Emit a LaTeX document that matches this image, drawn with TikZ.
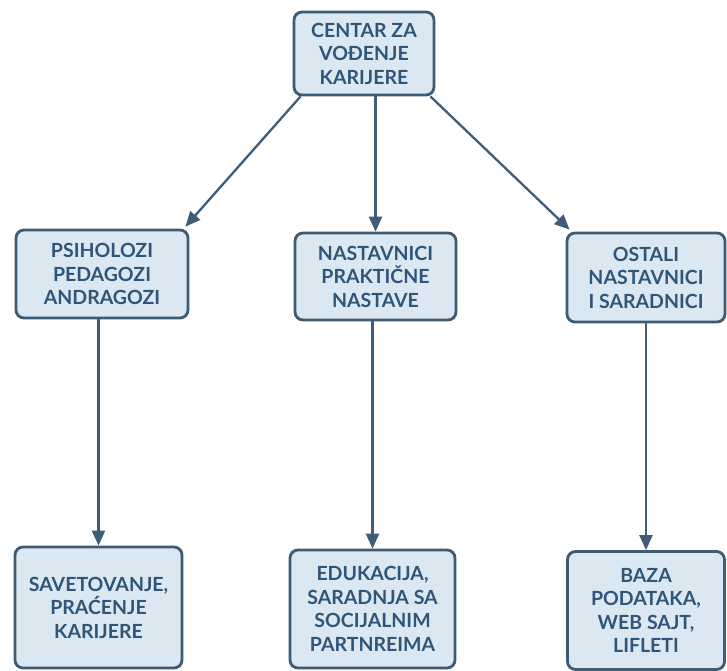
\documentclass[tikz,border=0pt]{standalone}
\usepackage{fontspec}
\setmainfont{Lato}
\usetikzlibrary{arrows.meta}
\definecolor{boxfill}{HTML}{DCE8F1}
\definecolor{boxline}{HTML}{3E5B74}
\definecolor{boxtext}{HTML}{2F5579}
\definecolor{arrowline}{HTML}{3F5D78}
\begin{document}
\begin{tikzpicture}[x=1pt,y=-1pt,
  card/.style={draw=boxline, fill=boxfill, line width=2.8pt, rounded corners=8pt,
    text=boxtext, font=\fontsize{19.5}{23.5}\selectfont\bfseries, align=center,
    inner sep=0pt},
  link/.style={draw=arrowline, line width=2.3pt,
    -{Triangle[length=15pt,width=13pt]}}]
\useasboundingbox (0,0) rectangle (727,670);

% top level
\node[card, minimum width=140pt, minimum height=83pt] (top) at (364,53.5)
  {CENTAR ZA\\VOĐENJE\\KARIJERE};

% middle row
\node[card, minimum width=172pt, minimum height=88pt] (L1) at (102,274)
  {PSIHOLOZI\\PEDAGOZI\\ANDRAGOZI};
\node[card, minimum width=161pt, minimum height=87pt] (M1) at (375.5,276.5)
  {NASTAVNICI\\PRAKTIČNE\\NASTAVE};
\node[card, minimum width=158pt, minimum height=89pt] (R1) at (646,277.5)
  {OSTALI\\NASTAVNICI\\I SARADNICI};

% bottom row
\node[card, minimum width=167pt, minimum height=121pt] (L2) at (98.5,607.5)
  {SAVETOVANJE,\\PRAĆENJE\\KARIJERE};
\node[card, minimum width=165pt, minimum height=118pt] (M2) at (372.5,609)
  {EDUKACIJA,\\SARADNJA SA\\SOCIJALNIM\\PARTNREIMA};
\node[card, minimum width=157pt, minimum height=118pt] (R2) at (646,610.5)
  {BAZA\\PODATAKA,\\WEB SAJT,\\LIFLETI};

% connectors
\draw[link] ([xshift=8pt]top.south west) -- ([xshift=-4pt,yshift=2pt]L1.north east);
\draw[link] (M1.north |- top.south) -- (M1.north);
\draw[link] ([xshift=-5pt]top.south east) -- ([xshift=4pt,yshift=2pt]R1.north west);

\draw[link] (L1.south -| L2.north) -- (L2.north);
\draw[link] (M1.south -| M2.north) -- (M2.north);
\draw[link] (R1.south -| R2.north) -- (R2.north);
\end{tikzpicture}
\end{document}
